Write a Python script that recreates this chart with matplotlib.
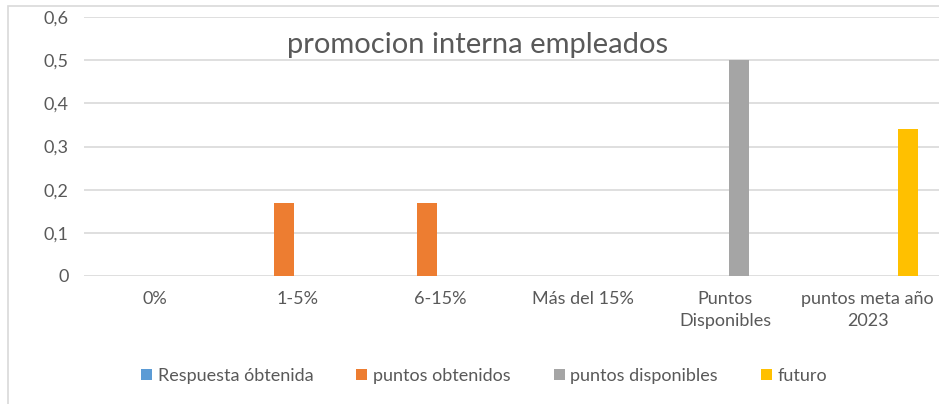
import numpy as np
import matplotlib.pyplot as plt
from matplotlib.patches import Rectangle, Patch

plt.rcParams['font.family'] = ['Lato', 'DejaVu Sans']

categorias = ["0%", "1-5%", "6-15%", "Más del 15%", "Puntos\nDisponibles", "puntos meta año\n2023"]
series = ["Respuesta óbtenida", "puntos obtenidos", "puntos disponibles", "futuro"]
respuesta = [0, 0, 0, 0, 0, 0]
obtenidos = [0, 0.17, 0.17, 0, 0, 0]
disponibles = [0, 0, 0, 0, 0.5, 0]
futuro = [0, 0, 0, 0, 0, 0.34]
colores = ["#5B9BD5", "#ED7D31", "#A5A5A5", "#FFC000"]
yticks = [0, 0.1, 0.2, 0.3, 0.4, 0.5, 0.6]

fig = plt.figure(figsize=(9.39, 4.04), dpi=100)
# chart border
fig.patches.append(Rectangle((8 / 939, -0.1), 1.2, 1 - 6 / 404 + 0.1, transform=fig.transFigure,
                             fill=False, edgecolor="#D9D9D9", linewidth=1.2))
ax = fig.add_axes([84 / 939, 1 - 276 / 404, 1 - 84 / 939, (276 - 17) / 404])

x = np.arange(len(categorias))
paso = 27 / 142.5
ancho = 20 / 142.5
datos = [respuesta, obtenidos, disponibles, futuro]
for i, (vals, col) in enumerate(zip(datos, colores)):
    ax.bar(x + (i - 1.5) * paso, vals, width=ancho, color=col, linewidth=0, zorder=3)

ax.set_xlim(-0.5, len(categorias) - 0.5)
ax.set_ylim(0, 0.6)
ax.set_yticks(yticks)
ax.set_yticklabels([f"{v:.1f}".replace(".", ",") if v else "0" for v in yticks])
ax.set_xticks(x)
ax.set_xticklabels(categorias, multialignment="center", linespacing=1.45)
ax.tick_params(length=0, colors="#595959", labelsize=13)
ax.tick_params(axis="x", pad=11)
ax.tick_params(axis="y", pad=11)
for s in ax.spines.values():
    s.set_visible(False)
ax.grid(axis="y", color="#D9D9D9", linewidth=1.2, zorder=0)

fig.text(478 / 939, 1 - 45 / 404, "promocion interna empleados", ha="center", va="center",
         fontsize=21, color="#595959")

handles = [Patch(facecolor=c, edgecolor="none") for c in colores]
fig.legend(handles, series, loc="center", bbox_to_anchor=(484 / 939, 1 - 376 / 404), ncol=4,
           frameon=False, fontsize=13, labelcolor="#595959", handlelength=0.6, handleheight=0.6,
           handletextpad=0.3, columnspacing=2.4)

fig.savefig("out.png", dpi=100)
